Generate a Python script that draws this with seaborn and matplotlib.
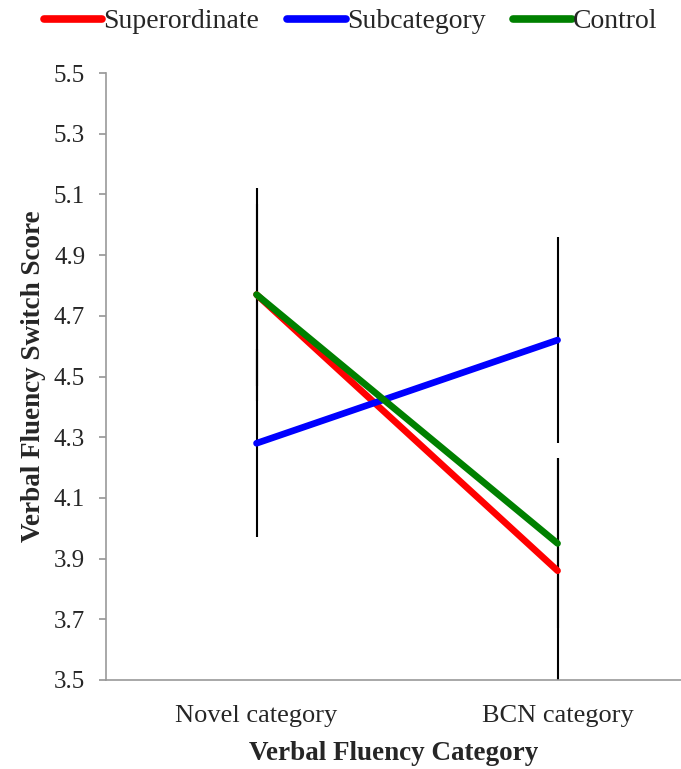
import pandas as pd
import matplotlib.pyplot as plt
import seaborn as sns

# data
categories = ['Novel category', 'BCN category']
groups = ['Superordinate', 'Subcategory', 'Control']
superordinate = [4.77, 3.86]
subcategory = [4.28, 4.62]
control = [4.77, 3.95]
err_superordinate = [0.35, 0.37]
err_subcategory = [0.31, 0.34]
err_control = [0.30, 0.28]
y_ticks = [3.5, 3.7, 3.9, 4.1, 4.3, 4.5, 4.7, 4.9, 5.1, 5.3, 5.5]

colors = {'Superordinate': '#ff0000', 'Subcategory': '#0000ff', 'Control': '#008000'}

rows = []
for g, vals, errs in zip(groups, [superordinate, subcategory, control],
                         [err_superordinate, err_subcategory, err_control]):
    for i, (c, v, e) in enumerate(zip(categories, vals, errs)):
        rows.append({'group': g, 'category': c, 'pos': i, 'score': v, 'err': e})
df = pd.DataFrame(rows)

sns.set_theme(style="white")
plt.rcParams['font.family'] = ['Liberation Serif', 'DejaVu Serif']

fig = plt.figure(figsize=(6.81, 7.69), dpi=100)
ax = fig.add_axes([106 / 681, 1 - 680 / 769, 575 / 681, 607 / 769])

# error bars (behind the lines)
ax.errorbar(df['pos'], df['score'], yerr=df['err'], fmt='none',
            ecolor='black', elinewidth=1.5, capsize=0, zorder=1)

sns.lineplot(data=df, x='pos', y='score', hue='group', hue_order=groups,
             palette=colors, linewidth=4.8, ax=ax, legend=False,
             solid_capstyle='round', zorder=3)

ax.set_xlim(-0.5, 1.41)
ax.set_ylim(3.5, 5.5)
ax.set_yticks(y_ticks)
ax.set_yticklabels([f'{t:.1f}' for t in y_ticks], fontsize=18)
ax.set_xticks([-0.5, 0.5])
ax.set_xticklabels(['', ''])
ax.set_xticks([0, 1], minor=True)
ax.set_xticklabels(categories, minor=True, fontsize=19)
ax.tick_params(axis='x', which='minor', length=0, pad=18)
ax.tick_params(axis='x', which='major', length=6, color='#999999', direction='out')
ax.tick_params(axis='y', length=5, color='#999999', direction='out', left=True, pad=10)

for s in ['top', 'right']:
    ax.spines[s].set_visible(False)
for s in ['left', 'bottom']:
    ax.spines[s].set_color('#999999')
    ax.spines[s].set_linewidth(1.2)

ax.set_xlabel('Verbal Fluency Category', fontsize=19.5, fontweight='bold', labelpad=10)
ax.set_ylabel('Verbal Fluency Switch Score', fontsize=19.5, fontweight='bold', labelpad=6)

handles = [plt.Line2D([], [], color=colors[g], linewidth=5.5, solid_capstyle='round')
           for g in groups]
fig.legend(handles, groups, loc='center', bbox_to_anchor=(0.515, 0.972), ncol=3,
           frameon=False, fontsize=20, handlelength=2.1, handletextpad=0.05,
           columnspacing=1.0)

plt.savefig('out.png', dpi=100)
